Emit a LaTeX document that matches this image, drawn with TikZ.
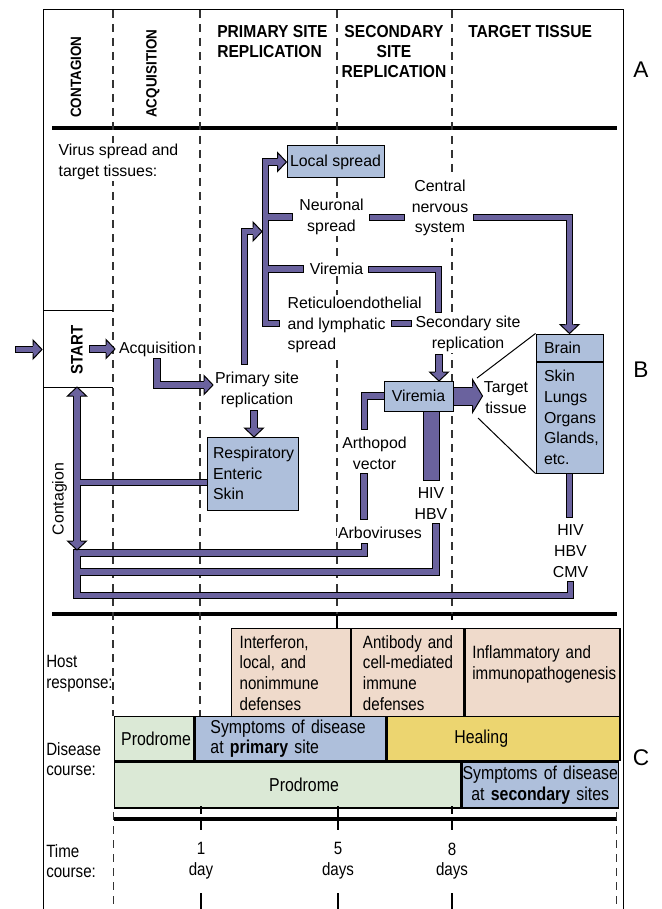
\documentclass[tikz,border=0pt]{standalone}
\usepackage{fontspec}
\setmainfont{Liberation Sans}
\newfontfamily\condsf[FakeStretch=0.9]{Liberation Sans}
\newfontfamily\narrowsf[FakeStretch=0.85]{Liberation Sans}
\usetikzlibrary{positioning,calc}

\hyphenpenalty=10000
\exhyphenpenalty=10000

\definecolor{flowpurple}{RGB}{106,98,158}
\definecolor{tissueblue}{RGB}{174,191,219}
\definecolor{hostpeach}{RGB}{239,218,203}
\definecolor{prodromegreen}{RGB}{219,233,214}
\definecolor{healgold}{RGB}{236,213,112}

\newcommand{\bodysize}{\fontsize{11.9}{15.6}\selectfont}
\newcommand{\phasesize}{\condsf\bfseries\fontsize{13}{15}\selectfont}
\newcommand{\hostsize}{\narrowsf\fontsize{13.35}{15.5}\selectfont}
\newcommand{\coursesize}{\narrowsf\fontsize{14}{15.5}\selectfont}
\newcommand{\pad}[1]{\hspace*{#1}}

\pgfdeclarelayer{front}
\pgfsetlayers{main,front}

\tikzset{
  fathead/.pic={
    \fill[flowpurple] (0,0) -- (-9,9.5) -- (-9,-9.5) -- cycle;
    \draw[line width=0.75pt, line join=miter] (-9,3.85) -- (-9,9.5) -- (0,0) -- (-9,-9.5) -- (-9,-3.85);
  },
  bighead/.pic={
    \fill[flowpurple] (0,0) -- (-10,16.5) -- (-10,-16.5) -- cycle;
    \draw[line width=0.75pt, line join=miter] (-10,9.5) -- (-10,16.5) -- (0,0) -- (-10,-16.5) -- (-10,-9.5);
  }
}

\begin{document}
\begin{tikzpicture}[x=0.75pt, y=-0.75pt,
  phase/.style={font=\phasesize, align=center, inner sep=0pt},
  txt/.style={font=\bodysize, align=center, inner sep=1pt, fill=white},
  tissue/.style={draw, line width=0.75pt, fill=tissueblue, font=\bodysize, align=left, inner sep=0pt},
  cell/.style={draw, line width=1pt, inner sep=0pt, anchor=north west, align=left},
  lowlabel/.style={font=\hostsize, align=left, anchor=west, inner sep=0pt},
  column/.style={draw=black!80, line width=0.8pt, dash pattern=on 6pt off 4.5pt},
  tickline/.style={line width=0.8pt},
  thickrule/.style={line width=2.3pt},
  panel/.style={font=\fontsize{17}{17}\selectfont, inner sep=0pt},
  fat/.style={draw=flowpurple, line width=4.3pt, line cap=rect, line join=miter,
    preaction={draw=black, line width=5.8pt, line cap=rect, line join=miter}},
  fatter/.style={draw=flowpurple, line width=10.9pt, line cap=rect, line join=miter,
    preaction={draw=black, line width=12.4pt, line cap=rect, line join=miter}},
  fattest/.style={draw=flowpurple, line width=12.75pt, line cap=butt,
    preaction={draw=black, line width=14.25pt, line cap=butt}}
]
\useasboundingbox (0,0) rectangle (661,909);

% frame, rules and phase columns
\draw[line width=0.75pt] (43,909) -- (43,10) -- (623,10) -- (623,909);
\draw[thickrule] (52,128) -- (616.5,128);
\draw[thickrule] (52,614) -- (616.5,614);
\draw[column] (113,10) -- (113,716);
\draw[column] (200,10) -- (200,716);
\draw[column] (337,10) -- (337,614);
\draw[column] (452,10) -- (452,614);
\draw[tickline] (337,614) -- (337,628);
\draw[tickline] (452,614) -- (452,620);

% phase headings
\node[phase, rotate=90, anchor=west, font=\condsf\bfseries\fontsize{11.2}{13}\selectfont] (contagionhd) at (76,118) {CONTAGION};
\node[phase, rotate=90, anchor=west, font=\condsf\bfseries\fontsize{11.2}{13}\selectfont] (acquisitionhd) at (153,118) {ACQUISITION};
\node[phase, anchor=west, align=left] (primaryhd) at (217,42) {PRIMARY SITE\\REPLICATION};
\node[phase] (secondaryhd) at (394,52) {SECONDARY\\SITE\\REPLICATION};
\node[phase, anchor=west] (targethd) at (468,32) {TARGET TISSUE};
\node[panel] (panelA) at (641,70) {A};

% spread labels
\node[txt, anchor=west, align=left] (intro) at (57,162) {Virus spread and\\target tissues:};
\draw[line width=0.75pt] (43,310) -- (113,310) (43,387) -- (113,387);
\node[phase, rotate=90, font=\condsf\bfseries\fontsize{12.5}{14}\selectfont] (start) at (77,350) {START};
\node[txt] (acq) at (157.5,349) {Acquisition};
\node[txt] (prim) at (257,390) {Primary site\\replication};
\node[txt] (neur) at (331.5,217) {Neuronal\\spread};
\node[txt] (cns) at (440,208) {Central\\nervous\\system};
\node[txt] (vir1) at (336.5,269) {Viremia};
\node[txt, anchor=west, align=left] (reti) at (286,325) {Reticuloendothelial\\and lymphatic\\spread};
\node[txt] (secrep) at (468,334) {Secondary site\\replication};
\node[txt] (arth) at (374.5,453) {Arthopod\\vector};
\node[txt] (arbo) at (380,533) {Arboviruses};
\node[txt] (hiv1) at (431,503.5) {HIV\\HBV};
\node[txt, fill=none] (target) at (506,398) {Target\\tissue};
\node[txt] (hiv2) at (570.5,551) {HIV\\HBV\\CMV};
\node[txt, rotate=90] (contag) at (59.5,499) {Contagion};
\node[panel] (panelB) at (641,370) {B};

% tissue boxes
\begin{pgfonlayer}{front}
\node[tissue, minimum width=72.75pt, minimum height=24pt, align=center] (locsp) at (335.5,162) {Local spread};
\node[tissue, text width=68.25pt, minimum height=54.75pt] (resp) at (252.5,473.5) {\pad{4.5pt}Respiratory\\\pad{4.5pt}Enteric\\\pad{4.5pt}Skin};
\node[tissue, minimum width=51.75pt, minimum height=22.5pt, align=center] (vir2) at (418.5,396) {Viremia};
\node[tissue, text width=50.25pt, minimum height=20.25pt] (brainhead) at (569.5,347.5) {\pad{6pt}Brain};
\node[tissue, text width=50.25pt, minimum height=83.25pt, anchor=north] (brainbody) at (brainhead.south) {\pad{6pt}Skin\\\pad{6pt}Lungs\\\pad{6pt}Organs\\\pad{6pt}Glands,\\\pad{6pt}etc.};
\end{pgfonlayer}

% arrow tips and bends
\coordinate (starttip) at (42,349.5);
\coordinate (acqtip) at (115,349);
\coordinate (primtip) at (213,385);
\coordinate (resptip) at (254,437);
\coordinate (trunktip) at (262,231.5);
\coordinate (trunkbot) at (265.5,323.5);
\coordinate (virtip) at (439,381);
\coordinate (bigtip) at ($(vir2.east)+(29,0)$);
\coordinate (contagtop) at (77,387);
\coordinate (contagbot) at (77,550);
\coordinate (resplink) at (77,482.5);
\coordinate (funneltop) at (477,378);
\coordinate (funnelbot) at (478,418);

% virus flow
\draw[fat] (19,349.5) -- ($(starttip)+(-9,0)$);
\draw[fat] (93,349) -- ($(acqtip)+(-9,0)$);
\draw[fat] (157,362) |- ($(primtip)+(-9,0)$);
\draw[fat] (254,414) -- ($(resptip)+(0,-9)$);
\draw[fat] (244.5,361) |- ($(trunktip)+(-9,0)$);
\draw[fat] ($(locsp.west)+(-9,0)$) -| (trunkbot) -- (276,323.5)
  (trunkbot |- neur) -- ($(neur.west)+(-9,0)$)
  (trunkbot |- vir1) -- ($(vir1.west)+(-8,0)$);
\draw[fat] (373,217.5) -- (401,217.5);
\draw[fat] (477,217.5) -| ($(brainhead.north)+(0,-9)$);
\draw[fat] (372,269.5) -| (438.5,309);
\draw[fat] (395,323.5) -- (408,323.5);
\draw[fat] (439,358) -- ($(virtip)+(0,-9)$);
\draw[fat] (364.5,426) |- (vir2.west);
\draw[fattest] (vir2.east) -- ($(bigtip)+(-10,0)$);
\draw[fatter] ($(vir2.south)+(13,0)$) -- (431.5,472.7);
\draw[fat] (364,477) -- (364,516);
\draw[fat] (brainbody.south) -- (569.5,514);
\draw[line width=0.75pt] (funneltop) -- (brainhead.north west);
\draw[line width=0.75pt] (funnelbot) -- (brainbody.south west);

% contagion
\draw[fat] ($(contagtop)+(0,9)$) -- ($(contagbot)+(0,-9)$)
  (resplink) -- (resp.west |- resplink);
\draw[fat] (364.5,547) -- (364.5,553) -- (77,553) -- (77,595.5) -- (570.5,595.5) -- (570.5,585)
  (77,572) -- (436,572) -- (436,527);

\begin{pgfonlayer}{front}
\pic at (starttip) {fathead};
\pic at (acqtip) {fathead};
\pic at (primtip) {fathead};
\pic[rotate=-90] at (resptip) {fathead};
\pic at (trunktip) {fathead};
\pic at (locsp.west) {fathead};
\pic[rotate=-90] at (brainhead.north) {fathead};
\pic[rotate=-90] at (virtip) {fathead};
\pic at (bigtip) {bighead};
\pic[rotate=90] at (contagtop) {fathead};
\pic[rotate=-90] at (contagbot) {fathead};
\end{pgfonlayer}

% host response and disease course
\node[lowlabel] (hostlbl) at (46,674) {Host\\response:};
\node[cell, fill=hostpeach, font=\hostsize, text width=88.875pt, minimum height=66pt] (innate) at (231,628) {\pad{6pt}Interferon,\\\pad{6pt}local, and\\\pad{6pt}nonimmune\\\pad{6pt}defenses};
\node[cell, fill=hostpeach, font=\hostsize, text width=84.375pt, minimum height=66pt] (adaptive) at (innate.north east) {\pad{8.6pt}Antibody and\\\pad{8.6pt}cell-mediated\\\pad{8.6pt}immune\\\pad{8.6pt}defenses};
\node[cell, fill=hostpeach, font=\hostsize, text width=115.875pt, minimum height=66pt] (inflam) at (adaptive.north east) {\pad{5.25pt}Inflammatory and\\\pad{5.25pt}immunopathogenesis\\\mbox{}};

\node[lowlabel] (courselbl) at (46,759) {Disease\\course:};
\node[cell, fill=prodromegreen, font=\coursesize, text width=59.625pt, minimum height=33pt] (prodrome1) at (113.5,716) {\pad{5.25pt}Prodrome};
\node[cell, fill=tissueblue, font=\coursesize, text width=143.25pt, minimum height=33pt] (primsym) at (prodrome1.north east) {\pad{11.6pt}Symptoms of disease\\\pad{11.6pt}at \textbf{primary} site};
\node[cell, fill=healgold, font=\coursesize, text width=174.375pt, minimum height=33pt] (healing) at (primsym.north east) {\pad{50.25pt}Healing};
\node[cell, fill=prodromegreen, font=\coursesize, text width=259.875pt, minimum height=34.5pt] (prodrome2) at (prodrome1.south west) {\pad{116.25pt}Prodrome};
\node[cell, fill=tissueblue, font=\coursesize, text width=117.375pt, minimum height=34.5pt, align=center] (secsym) at (prodrome2.north east) {Symptoms of disease\\at \textbf{secondary} sites};
\node[panel] (panelC) at (641,758) {C};

% time course
\node[lowlabel] (timelbl) at (46,861) {Time\\course:};
\draw[thickrule] (113.5,819) -- (616.5,819);
\draw[column] (113.5,812) -- (113.5,909);
\draw[column] (616.5,812) -- (616.5,909);
\foreach \xpos/\dnum/\dunit/\tickend in {201/1/day/814, 338/5/days/819, 452/8/days/814} {
  \draw[tickline] (\xpos,806) -- (\xpos,\tickend);
  \draw[line width=2pt] (\xpos,819) -- (\xpos,830);
  \draw[tickline] (\xpos,893) -- (\xpos,909);
  \node[font=\hostsize, align=center, inner sep=0pt] (day\dnum) at (\xpos,861) {\dnum\\\dunit};
}
\end{tikzpicture}
\end{document}
